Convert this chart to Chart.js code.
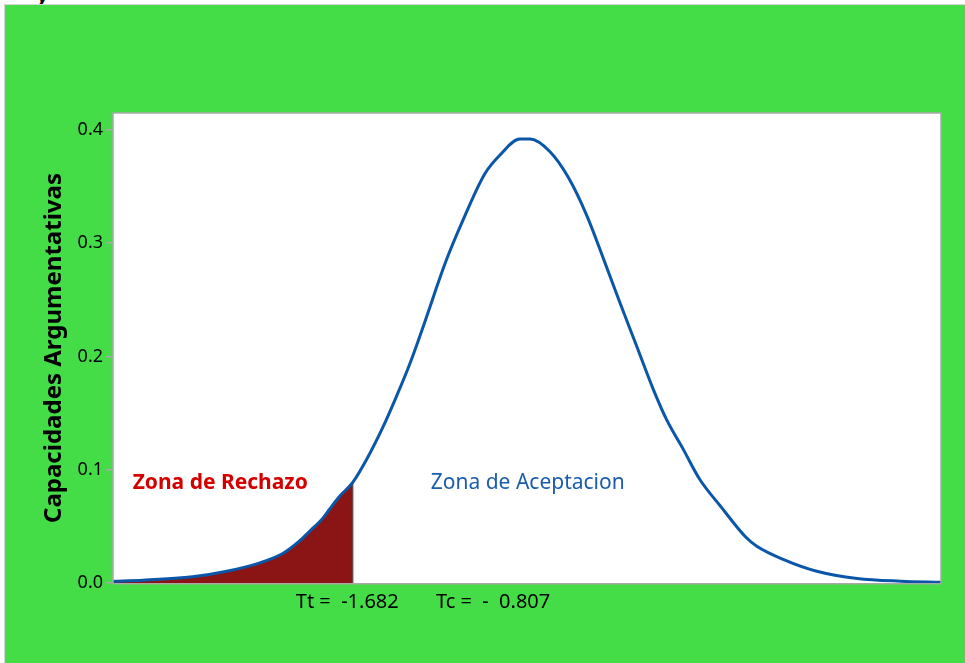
<!DOCTYPE html>
<html>
<head>
<meta charset="utf-8">
<script src="https://cdn.jsdelivr.net/npm/chart.js@4.4.0/dist/chart.umd.min.js"></script>
<style>
html,body{margin:0;padding:0;background:#ffffff;width:965px;height:663px;overflow:hidden;}
#frame{position:absolute;left:4px;top:4px;width:961px;height:659px;box-sizing:border-box;border-left:1px solid #d6d6d6;border-top:1px solid #d6d6d6;background:#45DD47;}
#c{position:absolute;left:0;top:0;}
#clip{position:absolute;left:38px;top:-19px;font:italic bold 20px "Noto Sans";color:#000;}
</style>
</head>
<body>
<div id="clip">y</div>
<div id="frame"><canvas id="c" width="960" height="658"></canvas></div>
<script>
// ---- data ----
const tValues = [-4.0,-3.71,-3.23,-2.90,-2.58,-2.36,-2.20,-2.10,-1.97,-1.91,-1.81,-1.682,-1.55,-1.39,-1.26,-1.13,-0.97,-0.87,-0.78,-0.63,-0.41,-0.26,-0.07,0.03,0.22,0.40,0.58,0.74,0.90,1.06,1.22,1.35,1.51,1.67,1.87,2.12,2.22,2.48,2.80,3.19,3.61,4.0];
const density = [0.0016,0.0025,0.0055,0.0104,0.0178,0.026,0.0369,0.0457,0.0575,0.0649,0.0766,0.089,0.109,0.138,0.165,0.194,0.235,0.262,0.285,0.318,0.361,0.378,0.392,0.392,0.381,0.358,0.324,0.286,0.247,0.209,0.171,0.144,0.118,0.0914,0.0678,0.0399,0.0325,0.0207,0.0104,0.004,0.0016,0.0007];
const yTicks = [0.0, 0.1, 0.2, 0.3, 0.4];
const tTable = -1.682;
const yAxisTitle = "Capacidades Argumentativas";
const rejectLabel = "Zona de Rechazo";
const acceptLabel = "Zona de Aceptacion";
const ttLabel = "Tt =  -1.682";
const tcLabel = "Tc =  -  0.807";

const curvePts = tValues.map((t,i)=>({x:t, y:density[i]}));
const rejectPts = curvePts.filter(p => p.x <= tTable);
const edgeY = density[tValues.indexOf(tTable)];
const edgePts = [{x:tTable, y:0}, {x:tTable, y:edgeY}];

const FONT = '"Noto Sans", "Open Sans", sans-serif';

const areaPlugin = {
  id:'area',
  beforeDatasetsDraw(chart){
    const {ctx, chartArea:a} = chart;
    ctx.save();
    ctx.fillStyle = '#ffffff';
    ctx.fillRect(a.left, a.top, a.right-a.left, a.bottom-a.top);
    ctx.restore();
  }
};
const borderPlugin = {
  id:'bord',
  afterDatasetsDraw(chart){
    const {ctx, chartArea:a, scales:{x,y}} = chart;
    ctx.save();
    ctx.strokeStyle = '#a9a9a9';
    ctx.lineWidth = 1.5;
    ctx.beginPath();
    ctx.moveTo(a.left, a.bottom); ctx.lineTo(a.left, a.top); ctx.lineTo(a.right, a.top); ctx.lineTo(a.right, a.bottom);
    ctx.stroke();
    ctx.beginPath();
    ctx.moveTo(a.left, a.bottom+0.75); ctx.lineTo(a.right, a.bottom+0.75);
    ctx.stroke();
    ctx.textBaseline = 'middle';
    ctx.textAlign = 'left';
    ctx.font = 'bold 21px ' + FONT;
    ctx.fillStyle = '#D40000';
    ctx.fillText(rejectLabel, x.getPixelForValue(-3.81), y.getPixelForValue(0.0887));
    ctx.font = '21px ' + FONT;
    ctx.fillStyle = '#1B5CAD';
    ctx.fillText(acceptLabel, x.getPixelForValue(-0.93), y.getPixelForValue(0.088));
    ctx.font = '20px ' + FONT;
    ctx.fillStyle = '#000000';
    const ly = y.getPixelForValue(0) + 19;
    ctx.fillText(ttLabel, x.getPixelForValue(-2.234), ly);
    ctx.fillText(tcLabel, x.getPixelForValue(-0.88), ly);
    ctx.restore();
  }
};

new Chart(document.getElementById('c'), {
  type:'line',
  data:{
    datasets:[
      {label:'curve', data:curvePts, borderColor:'#0A57A9', borderWidth:3, pointRadius:0, fill:false, cubicInterpolationMode:'monotone', clip:4, order:0},
      {label:'edge', data:edgePts, borderColor:'#5a5a5a', borderWidth:1, pointRadius:0, fill:false, order:1},
      {label:'reject', data:rejectPts, borderWidth:0, borderColor:'rgba(0,0,0,0)', backgroundColor:'#8B1414', pointRadius:0, fill:'origin', cubicInterpolationMode:'monotone', order:2}
    ]
  },
  options:{
    responsive:false,
    devicePixelRatio:1,
    animation:false,
    layout:{padding:{top:108, right:24, left:0, bottom:0}},
    plugins:{legend:{display:false}, tooltip:{enabled:false}, title:{display:false}},
    scales:{
      x:{
        type:'linear', min:-4, max:4,
        ticks:{display:false},
        grid:{display:false},
        border:{display:false},
        afterFit(s){ s.height = 80; }
      },
      y:{
        type:'linear', min:0, max:0.415,
        afterBuildTicks(s){ s.ticks = yTicks.map(v=>({value:v})); },
        ticks:{callback:(v)=>Number(v).toFixed(1), color:'#000', font:{family:FONT, size:18}, padding:3, includeBounds:false},
        grid:{display:true, drawOnChartArea:false, drawTicks:true, tickLength:7, color:'#a9a9a9', lineWidth:1.5},
        border:{display:false},
        title:{display:true, text:yAxisTitle, color:'#000', font:{family:FONT, size:24, weight:'bold'}, padding:{top:35, bottom:0}},
        afterFit(s){ s.width = 108; }
      }
    }
  },
  plugins:[areaPlugin, borderPlugin]
});
</script>
</body>
</html>
